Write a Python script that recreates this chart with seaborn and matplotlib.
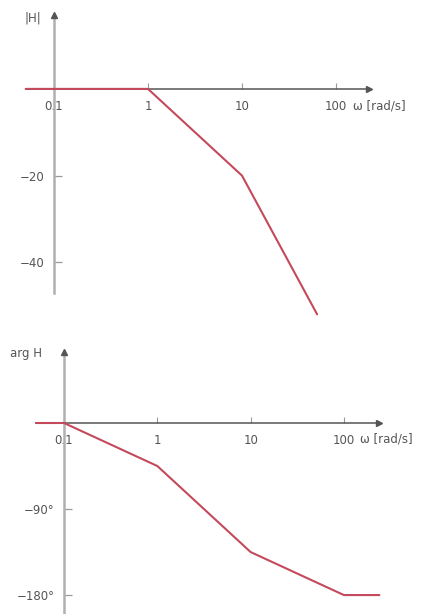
import numpy as np
import matplotlib
matplotlib.use("Agg")
import matplotlib.pyplot as plt
import seaborn as sns

# Bode asymptotes
mag_w = [0.05, 1, 10, 63]
mag_db = [0, 0, -20, -52]
phase_w = [0.05, 0.1, 1, 10, 100, 240]
phase_deg = [0, 0, -45, -135, -180, -180]
freq_ticks = [0.1, 1, 10, 100]
freq_labels = ["0.1", "1", "10", "100"]
mag_ticks = [-20, -40]
mag_labels = ["\u221220", "\u221240"]
phase_ticks = [-90, -180]
phase_labels = ["\u221290\u00b0", "\u2212180\u00b0"]

sns.set_style("white")
plt.rcParams['font.family'] = ['DejaVu Sans']

W, H = 441, 614
fig = plt.figure(figsize=(W / 100, H / 100), dpi=100)

red = "#c4495b"
xgray = "#555555"
ygray = "#b0b0b0"
tcol = "#555555"
fs = 8.5


def px_axes(x0, y0, x1, y1):
    # pixel box (top-left origin) -> figure axes
    return fig.add_axes([x0 / W, 1 - y1 / H, (x1 - x0) / W, (y1 - y0) / H])


def style(ax, xlim, ylim, xb, yb, yticks, ylabels):
    ax.set_xscale("log")
    ax.set_xlim(*xlim)
    ax.set_ylim(*ylim)
    for s in ["top", "right"]:
        ax.spines[s].set_visible(False)
    ax.spines["left"].set_position(("data", 0.1))
    ax.spines["bottom"].set_position(("data", 0))
    ax.spines["left"].set_bounds(*yb)
    ax.spines["bottom"].set_bounds(*xb)
    ax.spines["left"].set_color(ygray)
    ax.spines["left"].set_linewidth(1.8)
    ax.spines["left"].set_zorder(1)
    ax.spines["bottom"].set_color(xgray)
    ax.spines["bottom"].set_linewidth(1.1)
    ax.set_xticks(freq_ticks)
    ax.set_xticklabels(freq_labels)
    ax.xaxis.set_minor_locator(matplotlib.ticker.NullLocator())
    ax.set_yticks(yticks)
    ax.set_yticklabels(ylabels)
    ax.tick_params(axis="x", bottom=True, direction="in", length=4, width=0.8,
                   color="#999999", pad=8, labelsize=fs, labelcolor=tcol)
    ax.tick_params(axis="y", left=True, direction="in", length=6, width=0.9,
                   color="#999999", pad=7, labelsize=fs, labelcolor=tcol)
    for lab in ax.get_xticklabels():
        lab.set_bbox(dict(facecolor="white", edgecolor="none", pad=0.5))
    ax.set_xlabel("")
    ax.set_ylabel("")
    ax.patch.set_alpha(0)
    # arrow heads
    ax.plot([0.1], [yb[1]], marker="^", color=xgray, markersize=5, clip_on=False)
    ax.plot([xb[1]], [0], marker=">", color=xgray, markersize=5, clip_on=False)


# magnitude panel
ax1 = px_axes(15, 10, 380, 320)
sns.lineplot(x=mag_w, y=mag_db, ax=ax1, color=red, linewidth=1.5, sort=False, zorder=5)
style(ax1, (0.0385, 293.7), (-53.3, 18.2), (0.05, 225), (-47, 17), mag_ticks, mag_labels)

# phase panel
ax2 = px_axes(15, 345, 390, 614)
sns.lineplot(x=phase_w, y=phase_deg, ax=ax2, color=red, linewidth=1.5, sort=False, zorder=5)
style(ax2, (0.0298, 311.8), (-199.8, 81.6), (0.05, 240), (-200, 74), phase_ticks, phase_labels)

fig.text(24 / W, 1 - 18 / H, "|H|", fontsize=fs, color=tcol, va="center", ha="left")
fig.text(353 / W, 1 - 106 / H, "\u03c9 [rad/s]", fontsize=fs, color=tcol, va="center", ha="left")
fig.text(10 / W, 1 - 353 / H, "arg H", fontsize=fs, color=tcol, va="center", ha="left")
fig.text(360 / W, 1 - 439 / H, "\u03c9 [rad/s]", fontsize=fs, color=tcol, va="center", ha="left")

fig.savefig("out.png", dpi=100)
